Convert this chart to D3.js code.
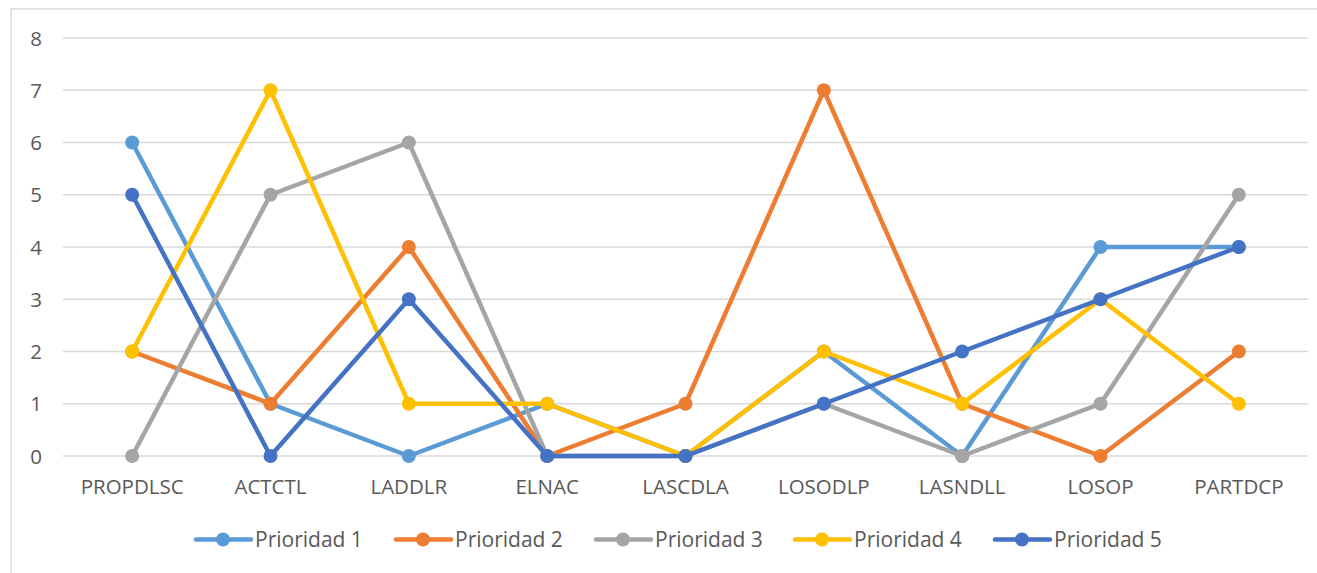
<!DOCTYPE html>
<html>
<head>
<meta charset="utf-8">
<script src="https://cdn.jsdelivr.net/npm/d3@7/dist/d3.min.js"></script>
<style>
  body { margin: 0; background: #fff; }
  svg text { font-family: "Open Sans", "Liberation Sans", sans-serif; fill: #595959; }
</style>
</head>
<body>
<svg width="1317" height="573"></svg>
<script>
var categories = ["PROPDLSC", "ACTCTL", "LADDLR", "ELNAC", "LASCDLA", "LOSODLP", "LASNDLL", "LOSOP", "PARTDCP"];
var seriesNames = ["Prioridad 1", "Prioridad 2", "Prioridad 3", "Prioridad 4", "Prioridad 5"];
var prioridad1 = [6, 1, 0, 1, 0, 2, 0, 4, 4];
var prioridad2 = [2, 1, 4, 0, 1, 7, 1, 0, 2];
var prioridad3 = [0, 5, 6, 0, 0, 1, 0, 1, 5];
var prioridad4 = [2, 7, 1, 1, 0, 2, 1, 3, 1];
var prioridad5 = [5, 0, 3, 0, 0, 1, 2, 3, 4];
var yTicks = [0, 1, 2, 3, 4, 5, 6, 7, 8];

var colors = ["#5b9bd5", "#ed7d31", "#a5a5a5", "#ffc000", "#4472c4"];
var allSeries = [prioridad1, prioridad2, prioridad3, prioridad4, prioridad5];

var svg = d3.select("svg");

// outer chart frame
svg.append("rect")
  .attr("x", 11).attr("y", 9)
  .attr("width", 1320).attr("height", 580)
  .attr("fill", "none")
  .attr("stroke", "#d9d9d9")
  .attr("stroke-width", 1.5);

var x = d3.scaleBand().domain(categories).range([63, 1308]);
var y = d3.scaleLinear().domain([0, 8]).range([456, 38]);

// gridlines
svg.append("g")
  .selectAll("line")
  .data(yTicks)
  .enter().append("line")
    .attr("x1", 63).attr("x2", 1308)
    .attr("y1", function(d) { return y(d); })
    .attr("y2", function(d) { return y(d); })
    .attr("stroke", "#d9d9d9")
    .attr("stroke-width", 1.5);

// y labels
svg.append("g")
  .selectAll("text")
  .data(yTicks)
  .enter().append("text")
    .attr("x", 36)
    .attr("y", function(d) { return y(d) + 7.5; })
    .style("text-anchor", "middle")
    .style("font-size", "20.5px")
    .text(function(d) { return d; });

// x labels
svg.append("g")
  .selectAll("text")
  .data(categories)
  .enter().append("text")
    .attr("x", function(d) { return x(d) + x.bandwidth() / 2; })
    .attr("y", 494)
    .style("text-anchor", "middle")
    .style("font-size", "20.5px")
    .text(function(d) { return d; });

var line = d3.line()
  .x(function(d, i) { return x(categories[i]) + x.bandwidth() / 2; })
  .y(function(d) { return y(d); });

allSeries.forEach(function(vals, s) {
  var g = svg.append("g");
  g.append("path")
    .datum(vals)
    .attr("d", line)
    .attr("fill", "none")
    .attr("stroke", colors[s])
    .attr("stroke-width", 4.5)
    .attr("stroke-linejoin", "round");
  g.selectAll("circle")
    .data(vals)
    .enter().append("circle")
      .attr("cx", function(d, i) { return x(categories[i]) + x.bandwidth() / 2; })
      .attr("cy", function(d) { return y(d); })
      .attr("r", 7)
      .attr("fill", colors[s]);
});

// legend
var legendX = [196, 396, 596, 795, 995];
var legend = svg.selectAll(".legend")
  .data(seriesNames)
  .enter().append("g")
    .attr("class", "legend")
    .attr("transform", function(d, i) { return "translate(" + legendX[i] + ",539.5)"; });

legend.append("line")
  .attr("x1", 0).attr("x2", 55)
  .attr("stroke", function(d, i) { return colors[i]; })
  .attr("stroke-width", 4.5)
  .attr("stroke-linecap", "round");

legend.append("circle")
  .attr("cx", 27).attr("r", 7)
  .attr("fill", function(d, i) { return colors[i]; });

legend.append("text")
  .attr("x", 59).attr("y", 7.5)
  .style("font-size", "21px")
  .text(function(d) { return d; });
</script>
</body>
</html>
